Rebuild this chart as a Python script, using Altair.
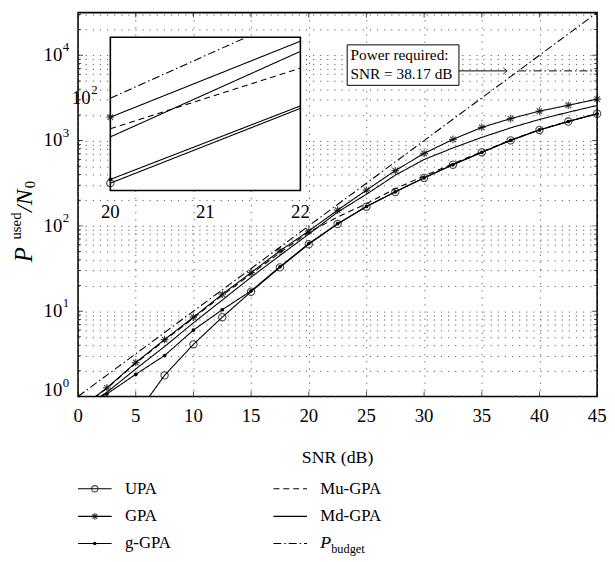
import altair as alt
import pandas as pd

FONT = "Liberation Serif"

# ---------------- data ----------------
snr = [0, 2.5, 5, 7.5, 10, 12.5, 15, 17.5, 20, 22.5, 25, 27.5, 30, 32.5, 35, 37.5, 40, 42.5, 45]
upa = [0.06, 0.2, 0.6, 1.77, 4.08, 8.5, 16.9, 32.6, 61, 105, 168, 250, 365, 521, 727, 1005, 1333, 1670, 2062]
gpa = [0.7, 1.26, 2.5, 4.65, 8.5, 15.8, 28.3, 51, 87, 153, 262, 445, 708, 1032, 1427, 1808, 2213, 2594, 3060]
g_gpa = [0.75, 1.07, 1.82, 3.02, 6.0, 10.4, 17.3, 33.2, 62, 106, 169, 251, 366, 522, 728, 1006, 1334, 1672, 2064]
mu_gpa = [0.7, 1.24, 2.45, 4.55, 8.3, 15.3, 27.3, 48.5, 84, 127, 182, 272, 385, 535, 740, 1015, 1340, 1680, 2075]
md_gpa = [0.68, 1.12, 2.1, 3.85, 7.3, 13.5, 25, 45, 80, 145, 235, 393, 600, 820, 1090, 1410, 1770, 2150, 2580]
p_budget = [1, 1.78, 3.16, 5.62, 10, 17.8, 31.6, 56.2, 100, 178, 316, 562, 1000, 1778, 3162, 5623, 10000, 17783, 31623]

series_names = ["UPA", "GPA", "g-GPA", "Mu-GPA", "Md-GPA", "Pbudget"]

# inset (zoom 20..22 dB)
inset_snr = [20, 22]
inset_upa = [62.5, 94.5]
inset_gpa = [90, 137]
inset_g_gpa = [63.8, 95.8]
inset_mu_gpa = [84.4, 118]
inset_md_gpa = [80.7, 129.5]
inset_pb_snr = [20, 21.43]
inset_p_budget = [100, 140]

# axes / ticks
x_ticks = [0, 5, 10, 15, 20, 25, 30, 35, 40, 45]
x_title = "SNR (dB)"
y_decades = [1, 10, 100, 1000, 10000]
y_exps = ["0", "1", "2", "3", "4"]
y_minor = [m * d for d in [1, 10, 100, 1000] for m in range(2, 10)] + [20000, 30000]
inset_ticks = [20, 21, 22]

# annotation
required_snr = 38.17
required_power = 6561
annot_lines = ["Power required:", "SNR = 38.17 dB"]

# ---------------- tables ----------------
main_df = pd.DataFrame({
    "snr": snr * 6,
    "value": upa + gpa + g_gpa + mu_gpa + md_gpa + p_budget,
    "series": sum([[s] * len(snr) for s in series_names], []),
})
inset_df = pd.DataFrame({
    "snr": inset_snr * 5 + inset_pb_snr,
    "value": inset_upa + inset_gpa + inset_g_gpa + inset_mu_gpa + inset_md_gpa + inset_p_budget,
    "series": sum([[s] * 2 for s in series_names], []),
})

DASH = {"UPA": [1, 0], "GPA": [1, 0], "g-GPA": [1, 0], "Mu-GPA": [6, 4],
        "Md-GPA": [1, 0], "Pbudget": [8, 3, 1.5, 3]}
dash_scale = alt.Scale(domain=series_names, range=[DASH[s] for s in series_names])

STAR = "M0,-1L0,1M-1,0L1,0M-0.72,-0.72L0.72,0.72M-0.72,0.72L0.72,-0.72"
CHEVRON = "M-1,-0.8L0,0L-1,0.8"

W, H = 526, 389

xs = alt.Scale(domain=[0, 45], nice=False, zero=False)
ys = alt.Scale(type="log", domain=[1, 31623], nice=False)
grid_dash = [1.2, 6]
x_axis = alt.Axis(values=x_ticks, grid=True, gridDash=grid_dash, gridColor="#5a5a5a",
                  ticks=False, domain=False, labels=False, title=None)
y_axis = alt.Axis(values=y_decades + y_minor, grid=True, gridDash=grid_dash, gridColor="#5a5a5a",
                  labels=False, ticks=False, domain=False, title=None)

X = lambda: alt.X("snr:Q", scale=xs, axis=x_axis)
Y = lambda: alt.Y("value:Q", scale=ys, axis=y_axis)

lines = alt.Chart(main_df).mark_line(clip=True, color="black", strokeWidth=1.1).encode(
    x=X(), y=Y(), detail="series:N",
    strokeDash=alt.StrokeDash("series:N", scale=dash_scale, legend=None),
)
pts = alt.Chart(main_df).transform_filter("datum.value >= 1")
upa_pts = pts.transform_filter("datum.series == 'UPA'").mark_point(
    shape="circle", size=55, filled=False, color="black", strokeWidth=1.1).encode(x=X(), y=Y())
gpa_pts = pts.transform_filter("datum.series == 'GPA'").mark_point(
    shape=STAR, size=60, filled=False, color="black", strokeWidth=1.2).encode(x=X(), y=Y())
g_pts = pts.transform_filter("datum.series == 'g-GPA'").mark_point(
    shape="circle", size=14, filled=True, color="black", opacity=1).encode(x=X(), y=Y())

# inward ticks on all four sides
yt_major = pd.DataFrame({"snr": [0] * 5 + [45] * 5, "value": y_decades * 2})
yt_minor = pd.DataFrame({"snr": [0] * len(y_minor) + [45] * len(y_minor), "value": y_minor * 2})
xt = pd.DataFrame({"snr": x_ticks * 2, "value": [1] * len(x_ticks) + [31623] * len(x_ticks)})
t_major = alt.Chart(yt_major).mark_tick(orient="horizontal", size=10, thickness=1, clip=True,
                                        color="black").encode(x=X(), y=Y())
t_minor = alt.Chart(yt_minor).mark_tick(orient="horizontal", size=6, thickness=1, clip=True,
                                        color="black").encode(x=X(), y=Y())
t_x = alt.Chart(xt).mark_tick(orient="vertical", size=10, thickness=1, clip=True,
                              color="black").encode(x=X(), y=Y())

# x tick labels and title
xlab_df = pd.DataFrame({"snr": x_ticks, "label": [str(t) for t in x_ticks]})
xlab = alt.Chart(xlab_df).mark_text(font=FONT, fontSize=19, baseline="middle",
                                    color="black").encode(
    x=X(), y=alt.value(H + 20), text="label:N")
xtitle = alt.Chart(pd.DataFrame({"t": [x_title]})).mark_text(
    font=FONT, fontSize=18, baseline="middle", color="black").encode(
    x=alt.value(W / 2), y=alt.value(H + 62), text="t:N")

# y tick labels "10" + superscript
ylab_df = pd.DataFrame({"value": y_decades, "exp": y_exps, "base": ["10"] * 5})
ylab_chart = alt.Chart(ylab_df)
ylab_layers = []
for cond, shift in [("datum.value > 1", 0), ("datum.value == 1", -6)]:
    ylab_layers.append(ylab_chart.transform_filter(cond).mark_text(
        align="right", baseline="middle", font=FONT, fontSize=19, color="black", dy=shift
    ).encode(y=Y(), x=alt.value(-16), text="base:N"))
    ylab_layers.append(ylab_chart.transform_filter(cond).mark_text(
        align="left", baseline="middle", font=FONT, fontSize=13, dy=shift - 8, color="black"
    ).encode(y=Y(), x=alt.value(-15.5), text="exp:N"))

# annotation box and arrow
box_df = pd.DataFrame({"snr": [23.33], "snr2": [33.02], "value": [13240], "value2": [4443]})
annot_box = alt.Chart(box_df).mark_rect(fill="white", stroke="black", strokeWidth=1).encode(
    x=X(), x2="snr2:Q", y=Y(), y2="value2:Q")
annot_txt_df = pd.DataFrame({"snr": [23.62, 23.62], "value": [10070, 5985], "text": annot_lines})
annot_txt = alt.Chart(annot_txt_df).mark_text(align="left", baseline="middle", font=FONT,
                                              fontSize=15.5, color="black").encode(
    x=X(), y=Y(), text="text:N")
arrow_df = pd.DataFrame({"snr": [33.02], "snr2": [37.2], "value": [required_power]})
arrow = alt.Chart(arrow_df).mark_rule(color="black", strokeWidth=1).encode(
    x=X(), x2="snr2:Q", y=Y())
arrow_head = alt.Chart(arrow_df).mark_point(shape=CHEVRON, size=70, filled=False,
                                            color="black", strokeWidth=1).encode(
    x=alt.X("snr2:Q", scale=xs, axis=x_axis), y=Y())
budget_df = pd.DataFrame({"snr": [required_snr], "snr2": [45], "value": [required_power]})
budget_rule = alt.Chart(budget_df).mark_rule(color="black", strokeWidth=1,
                                             strokeDash=DASH["Pbudget"]).encode(
    x=X(), x2="snr2:Q", y=Y())

main = alt.layer(lines, upa_pts, gpa_pts, g_pts, t_major, t_minor, t_x, xlab, xtitle,
                 *ylab_layers, annot_box, annot_txt, arrow, arrow_head, budget_rule)

# ---------------- inset ----------------
xi = alt.Scale(domain=[20, 22], range=[32.7, 225.3], nice=False, zero=False)
yi = alt.Scale(type="log", domain=[60, 140], range=[180.3, 25], nice=False)
XI = lambda: alt.X("snr:Q", scale=xi, axis=None)
YI = lambda: alt.Y("value:Q", scale=yi, axis=None)

ibox_df = pd.DataFrame({"snr": [20], "snr2": [22], "value": [60], "value2": [140]})
ibox = alt.Chart(ibox_df).mark_rect(fill="white", stroke="black", strokeWidth=1.6).encode(
    x=XI(), x2="snr2:Q", y=YI(), y2="value2:Q")
ilines = alt.Chart(inset_df).mark_line(color="black", strokeWidth=1.1).encode(
    x=XI(), y=YI(), detail="series:N",
    strokeDash=alt.StrokeDash("series:N", scale=dash_scale, legend=None))
ipts = alt.Chart(inset_df).transform_filter("datum.snr == 20")
i_upa = ipts.transform_filter("datum.series == 'UPA'").mark_point(
    shape="circle", size=55, filled=False, color="black", strokeWidth=1.1).encode(x=XI(), y=YI())
i_gpa = ipts.transform_filter("datum.series == 'GPA'").mark_point(
    shape=STAR, size=60, filled=False, color="black", strokeWidth=1.2).encode(x=XI(), y=YI())
i_g = ipts.transform_filter("datum.series == 'g-GPA'").mark_point(
    shape="circle", size=14, filled=True, color="black", opacity=1).encode(x=XI(), y=YI())
ilab_df = pd.DataFrame({"snr": inset_ticks, "label": [str(t) for t in inset_ticks]})
ilab = alt.Chart(ilab_df).mark_text(font=FONT, fontSize=19, baseline="middle",
                                    color="black").encode(
    x=XI(), y=alt.value(202), text="label:N")
iy_df = pd.DataFrame({"value": [100], "base": ["10"], "exp": ["2"]})
iy_base = alt.Chart(iy_df).mark_text(font=FONT, fontSize=19, align="right", baseline="middle",
                                     color="black").encode(
    y=YI(), x=alt.value(12.7), text="base:N")
iy_exp = alt.Chart(iy_df).mark_text(font=FONT, fontSize=13, align="left", baseline="middle",
                                    dy=-8, color="black").encode(
    y=YI(), x=alt.value(13.3), text="exp:N")
inset = alt.layer(ibox, ilines, i_upa, i_gpa, i_g, ilab, iy_base, iy_exp)

# ---------------- legend (below the plot) ----------------
one = pd.DataFrame({"k": [0]})
LEG_X = [0, 198]
LEG_Y = [482.5, 510.5, 538]
SYM_LEN = 34
TXT_OFF = 47.5
legend_items = [("UPA", 0, 0), ("GPA", 0, 1), ("g-GPA", 0, 2),
                ("Mu-GPA", 1, 0), ("Md-GPA", 1, 1), ("Pbudget", 1, 2)]
leg_layers = []
for name, c, r in legend_items:
    x0, yy = LEG_X[c], LEG_Y[r]
    leg_layers.append(alt.Chart(one).mark_rule(color="black", strokeWidth=1.1,
                                               strokeDash=DASH[name]).encode(
        x=alt.value(x0), x2=alt.value(x0 + SYM_LEN), y=alt.value(yy)))
    if name == "UPA":
        leg_layers.append(alt.Chart(one).mark_point(shape="circle", size=40, filled=False,
                                                    color="black", strokeWidth=1.1).encode(
            x=alt.value(x0 + SYM_LEN / 2), y=alt.value(yy)))
    elif name == "GPA":
        leg_layers.append(alt.Chart(one).mark_point(shape=STAR, size=45, filled=False,
                                                    color="black", strokeWidth=1.2).encode(
            x=alt.value(x0 + SYM_LEN / 2), y=alt.value(yy)))
    elif name == "g-GPA":
        leg_layers.append(alt.Chart(one).mark_point(shape="circle", size=12, filled=True,
                                                    color="black", opacity=1).encode(
            x=alt.value(x0 + SYM_LEN / 2), y=alt.value(yy)))
    if name == "Pbudget":
        leg_layers.append(alt.Chart(one).mark_text(text="P", font=FONT, fontSize=18,
                                                   fontStyle="italic", align="left",
                                                   baseline="middle", color="black").encode(
            x=alt.value(x0 + TXT_OFF), y=alt.value(yy)))
        leg_layers.append(alt.Chart(one).mark_text(text="budget", font=FONT, fontSize=12.5,
                                                   align="left", baseline="middle", dy=6,
                                                   color="black").encode(
            x=alt.value(x0 + TXT_OFF + 11), y=alt.value(yy)))
    else:
        leg_layers.append(alt.Chart(one).mark_text(text=name, font=FONT, fontSize=17,
                                                   align="left", baseline="middle",
                                                   color="black").encode(
            x=alt.value(x0 + TXT_OFF), y=alt.value(yy)))
legend = alt.layer(*leg_layers)

# ---------------- y-axis title  P^used / N_0 (rotated) ----------------
def rot_text(txt, x, y, size, italic=False):
    kw = dict(text=txt, font=FONT, fontSize=size, angle=270, align="left",
              baseline="alphabetic", color="black")
    if italic:
        kw["fontStyle"] = "italic"
    return alt.Chart(one).mark_text(**kw).encode(x=alt.value(x), y=alt.value(y))

ytitle = alt.layer(
    rot_text("P", -47, 253, 25, True),
    rot_text("used", -57.5, 230, 15),
    rot_text("/N", -47, 202, 24, True),
    rot_text("0", -43.5, 178, 15),
)

chart = alt.layer(main, inset, legend, ytitle).resolve_scale(
    x="independent", y="independent"
).properties(
    width=W, height=H,
    autosize=alt.AutoSizeParams(type="none"),
    padding={"left": 71, "top": 1, "right": 10, "bottom": 160},
    background="white",
).configure(
    font=FONT
).configure_view(
    stroke="black", strokeWidth=1.6
).configure_text(
    font=FONT
)

chart.save("out.html", embed_options={"renderer": "svg", "actions": False})
